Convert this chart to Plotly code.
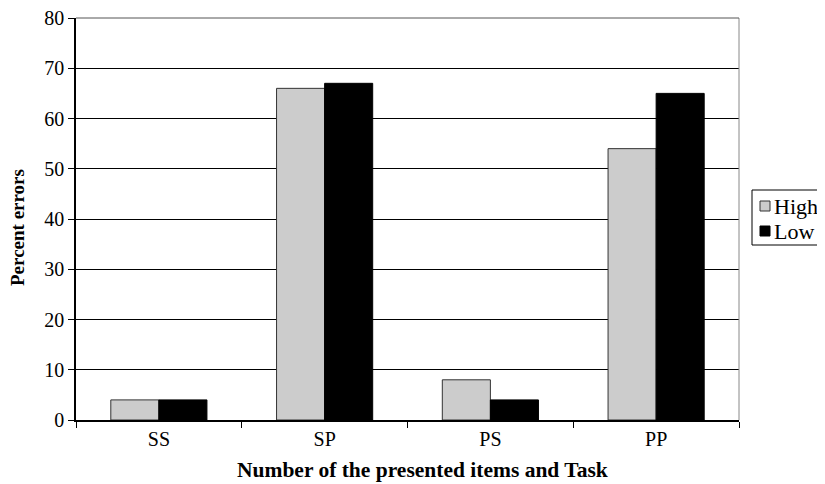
import plotly.graph_objects as go

categories = ["SS", "SP", "PS", "PP"]
high = [4, 66, 8, 54]
low = [4, 67, 4, 65]
y_ticks = [0, 10, 20, 30, 40, 50, 60, 70, 80]
series_names = ["High", "Low"]
series_fill = ["#cccccc", "#000000"]
series_edge = ["#333333", "#000000"]

font_family = "Liberation Serif"

# the page body adds an 8px margin, so the figure is laid out 8px up/left
OFF = 8
W, H = 825 - OFF, 484 - OFF
L, T = 76 - OFF, 18 - OFF
pw, ph = 663, 402
R, B = W - L - pw, H - T - ph


def px(page_x):
    return (page_x - 76) / pw


def py(page_y):
    return (420 - page_y) / ph


fig = go.Figure()
for name, vals, fc, ec in zip(series_names, [high, low], series_fill, series_edge):
    fig.add_trace(go.Bar(x=categories, y=vals, name=name, showlegend=False,
                         marker=dict(color=fc, line=dict(color=ec, width=1))))

fig.update_layout(
    width=W, height=H,
    margin=dict(l=L, r=R, t=T, b=B),
    plot_bgcolor="white", paper_bgcolor="white",
    barmode="group", bargap=0.42, bargroupgap=0,
    font=dict(family=font_family, size=20, color="black"),
    showlegend=False,
)
fig.update_xaxes(
    type="category", range=[-0.5, 3.5], tickson="boundaries",
    ticks="outside", ticklen=6, tickcolor="black",
    showline=True, linecolor="black", linewidth=1.5,
    tickfont=dict(size=20), automargin=False, ticklabeloverflow="allow",
)
fig.update_yaxes(
    range=[0, 80], tickvals=y_ticks, ticks="outside", ticklen=6, tickcolor="black",
    showline=True, linecolor="black", linewidth=1.5,
    showgrid=True, gridcolor="black", gridwidth=1,
    tickfont=dict(size=20), zeroline=False, automargin=False, ticklabeloverflow="allow",
)
fig.add_shape(type="line", xref="paper", yref="paper", x0=1, x1=1, y0=0, y1=1,
              line=dict(color="#888888", width=1))
fig.add_shape(type="line", xref="paper", yref="paper", x0=0, x1=1, y0=1, y1=1,
              line=dict(color="#555555", width=1))

# legend box (drawn manually so it fits the narrow right margin)
fig.add_shape(type="rect", xref="paper", yref="paper",
              x0=px(752), x1=px(823), y0=py(245), y1=py(190),
              line=dict(color="black", width=1), fillcolor="white")
row_y = [206, 231]
for name, fc, ec, yy in zip(series_names, series_fill, series_edge, row_y):
    fig.add_shape(type="rect", xref="paper", yref="paper",
                  x0=px(760), x1=px(770), y0=py(yy + 5), y1=py(yy - 5),
                  line=dict(color=ec, width=1), fillcolor=fc)
    fig.add_annotation(text=name, xref="paper", yref="paper",
                       x=px(772), y=py(yy), xanchor="left", yanchor="middle",
                       showarrow=False, font=dict(size=22, family=font_family))

fig.add_annotation(text="<b>Number of the presented items and Task</b>",
                   xref="paper", yref="paper", x=px(422), y=py(470),
                   xanchor="center", yanchor="middle", showarrow=False,
                   font=dict(size=21.5, family=font_family))
fig.add_annotation(text="<b>Percent errors</b>", textangle=-90,
                   xref="paper", yref="paper", x=px(18), y=py(228),
                   xanchor="center", yanchor="middle", showarrow=False,
                   font=dict(size=19, family=font_family))

fig.write_html("out.html")
